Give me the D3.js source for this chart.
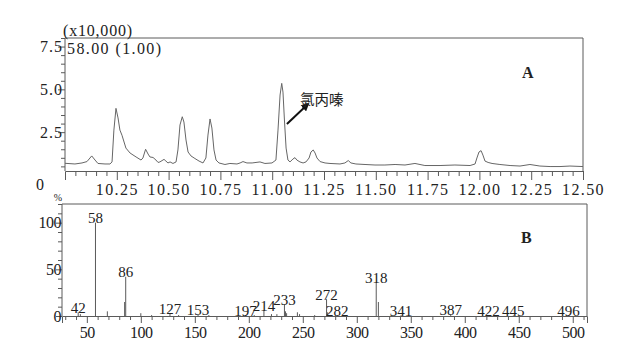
<!DOCTYPE html>
<html lang="zh">
<head>
    <meta charset="UTF-8">
    <title>氯丙嗪 色谱图与质谱图</title>
    <script src="https://cdnjs.cloudflare.com/ajax/libs/d3/7.8.5/d3.min.js"></script>
    <style>
        body { margin: 0; background: #fff; }
        svg text { font-family: 'Liberation Serif', 'DejaVu Serif', serif; fill: #222; }
    </style>
</head>
<body>
    <div id="wrapper"></div>
    <script>
        // A: 提取离子色谱图 (m/z 58)，保留时间 / 强度(x10,000)
        const rtTimes = [
            10.000, 10.048, 10.082, 10.106, 10.129, 10.145, 10.159, 10.193, 10.217, 10.227,
            10.236, 10.246, 10.256, 10.265, 10.275, 10.294, 10.314, 10.343, 10.367, 10.376,
            10.389, 10.401, 10.410, 10.425, 10.439, 10.449, 10.458, 10.478, 10.487, 10.497,
            10.507, 10.521, 10.536, 10.545, 10.555, 10.566, 10.574, 10.584, 10.594, 10.608,
            10.627, 10.647, 10.666, 10.680, 10.690, 10.700, 10.709, 10.719, 10.729, 10.743,
            10.772, 10.796, 10.830, 10.845, 10.859, 10.878, 10.903, 10.941, 10.965, 10.999,
            11.018, 11.028, 11.038, 11.046, 11.052, 11.059, 11.067, 11.076, 11.086, 11.100,
            11.110, 11.119, 11.134, 11.149, 11.163, 11.178, 11.187, 11.198, 11.207, 11.216,
            11.231, 11.255, 11.279, 11.327, 11.351, 11.367, 11.380, 11.404, 11.448, 11.496,
            11.544, 11.593, 11.641, 11.689, 11.737, 11.810, 11.882, 11.955, 11.979, 11.988,
            11.998, 12.008, 12.017, 12.027, 12.042, 12.061, 12.099, 12.148, 12.196, 12.244,
            12.292, 12.341, 12.389, 12.437, 12.500
        ]
        const rtSignal = [
            0.68, 0.64, 0.70, 0.78, 1.11, 0.87, 0.67, 0.64, 0.64, 0.76,
            2.62, 3.89, 3.33, 2.62, 2.32, 1.57, 1.28, 1.05, 0.87, 0.99,
            1.50, 1.22, 1.05, 1.02, 0.87, 0.73, 0.76, 0.91, 0.81, 0.70,
            0.76, 0.67, 0.76, 1.46, 2.92, 3.40, 3.09, 2.04, 1.34, 1.11,
            0.96, 0.81, 0.70, 0.99, 2.33, 3.27, 2.74, 1.46, 0.87, 0.70,
            0.61, 0.67, 0.64, 0.70, 0.78, 0.70, 0.70, 0.76, 0.67, 0.70,
            0.87, 2.62, 4.67, 5.35, 4.84, 3.21, 1.57, 0.87, 0.76, 0.93,
            1.01, 0.87, 0.76, 0.70, 0.76, 0.99, 1.34, 1.46, 1.28, 0.99,
            0.78, 0.70, 0.67, 0.64, 0.70, 0.84, 0.70, 0.64, 0.61, 0.58,
            0.58, 0.61, 0.58, 0.67, 0.55, 0.55, 0.58, 0.55, 0.64, 0.99,
            1.34, 1.42, 1.16, 0.81, 0.73, 0.67, 0.61, 0.55, 0.52, 0.61,
            0.52, 0.49, 0.49, 0.52, 0.49
        ]
        const rtTicks = [10.25, 10.50, 10.75, 11.00, 11.25, 11.50, 11.75, 12.00, 12.25, 12.50]
        const signalTicks = [2.5, 5.0, 7.5]

        // B: 质谱图，m/z / 相对丰度(%)
        const mzValues = [42, 44, 58, 69, 85, 86, 100, 110, 127, 135, 153, 163, 197, 205, 214, 221, 226,
            233, 234, 235, 245, 247, 261, 272, 273, 282, 318, 320, 341, 387, 422, 445, 496]
        const mzIntensity = [4, 2, 100, 5, 15, 42, 3, 1, 2.9, 1, 1.8, 1, 1, 1, 6, 2, 2,
            12.5, 5, 3, 4, 2, 1, 18, 4, 1, 36, 15, 1, 2, 0.6, 0.6, 0.6]
        const mzLabels = [42, 58, 86, 127, 153, 197, 214, 233, 272, 282, 318, 341, 387, 422, 445, 496]
        const mzTicks = [50, 100, 150, 200, 250, 300, 350, 400, 450, 500]
        const abundanceTicks = [0, 50, 100]

        const width = 622
        const height = 356
        const svg = d3.select('#wrapper').append('svg')
            .attr('width', width)
            .attr('height', height)

        const lineColor = '#5a5a5a'

        // ---------- A ----------
        const xA = d3.scaleLinear().domain([10, 12.5]).range([65, 583])
        const yA = d3.scaleLinear().domain([0.23, 8.0]).range([171, 38])

        // 外框
        svg.append('path')
            .attr('d', `M${xA(10)},${yA(0.23)}V${yA(8)}H${xA(12.5)}V${yA(0.23)}`)
            .attr('fill', 'none')
            .attr('stroke', lineColor)

        const rtMinor = d3.range(10.05, 12.51, 0.05).filter(t => !rtTicks.some(m => Math.abs(m - t) < 1e-6))
        svg.append('g')
            .attr('transform', `translate(0,${yA(0.23)})`)
            .call(d3.axisBottom(xA).tickValues(rtMinor).tickSize(5).tickFormat(''))
            .call(g => g.select('.domain').remove())
            .call(g => g.selectAll('.tick line').attr('stroke', lineColor))
        svg.append('g')
            .attr('transform', `translate(0,${yA(0.23)})`)
            .call(d3.axisBottom(xA).tickValues(rtTicks).tickSize(9).tickPadding(4).tickFormat(d3.format('.2f')))
            .call(g => g.select('.domain').attr('stroke', lineColor))
            .call(g => g.selectAll('.tick line').attr('stroke', lineColor))
            .call(g => g.selectAll('text').style('font-size', '16px').style('letter-spacing', '1.4px').attr('fill', '#222'))

        const sigMinor = d3.range(0.5, 8.01, 0.5).filter(v => !signalTicks.includes(v))
        svg.append('g')
            .attr('transform', `translate(${xA(10)},0)`)
            .call(d3.axisLeft(yA).tickValues(sigMinor).tickSize(4).tickFormat(''))
            .call(g => g.select('.domain').remove())
            .call(g => g.selectAll('.tick line').attr('stroke', lineColor))
        svg.append('g')
            .attr('transform', `translate(${xA(10)},0)`)
            .call(d3.axisLeft(yA).tickValues(signalTicks).tickSize(7).tickPadding(-5).tickFormat(d3.format('.1f')))
            .call(g => g.select('.domain').remove())
            .call(g => g.selectAll('.tick line').attr('stroke', lineColor))
            .call(g => g.selectAll('text').style('font-size', '16px').style('letter-spacing', '1px').attr('fill', '#222'))

        svg.append('text')
            .attr('x', 40).attr('y', yA(0) + 15)
            .attr('text-anchor', 'middle')
            .style('font-size', '16px')
            .text('0')

        svg.append('text')
            .attr('x', 63).attr('y', 36)
            .style('font-size', '16px').style('letter-spacing', '0.8px')
            .text('(x10,000)')
        svg.append('text')
            .attr('x', 67).attr('y', 54)
            .style('font-size', '16px').style('letter-spacing', '1.4px')
            .text('58.00 (1.00)')

        const chromLine = d3.line()
            .x((d, i) => xA(rtTimes[i]))
            .y(d => yA(d))
        svg.append('path')
            .datum(rtSignal)
            .attr('d', chromLine)
            .attr('fill', 'none')
            .attr('stroke', '#666')
            .attr('stroke-width', 1)

        // 标注 氯丙嗪
        svg.append('defs').append('marker')
            .attr('id', 'arrow')
            .attr('viewBox', '0 0 10 10')
            .attr('refX', 8).attr('refY', 5)
            .attr('markerWidth', 4).attr('markerHeight', 4)
            .attr('orient', 'auto')
            .append('path').attr('d', 'M0,0L10,5L0,10z').attr('fill', '#111')
        svg.append('line')
            .attr('x1', xA(11.071)).attr('y1', yA(2.98))
            .attr('x2', xA(11.173)).attr('y2', yA(4.14))
            .attr('stroke', '#111')
            .attr('stroke-width', 2)
            .attr('marker-end', 'url(#arrow)')
        svg.append('text')
            .attr('x', xA(11.134)).attr('y', yA(4.38) + 5)
            .style('font-family', "'Noto Sans CJK SC', sans-serif")
            .style('font-size', '14.5px')
            .text('氯丙嗪')

        svg.append('text')
            .attr('x', xA(12.233)).attr('y', yA(5.69))
            .attr('text-anchor', 'middle')
            .style('font-size', '16px').style('font-weight', 'bold')
            .text('A')

        // ---------- B ----------
        const xB = d3.scaleLinear().domain([27, 513.2]).range([62, 587])
        const yB = d3.scaleLinear().domain([0, 120]).range([316, 204])

        svg.append('path')
            .attr('d', `M${xB(27)},${yB(0)}V${yB(120)}H${xB(513.2)}V${yB(0)}`)
            .attr('fill', 'none')
            .attr('stroke', lineColor)

        const mzMinor = d3.range(30, 511, 10).filter(v => !mzTicks.includes(v))
        svg.append('g')
            .attr('transform', `translate(0,${yB(0)})`)
            .call(d3.axisBottom(xB).tickValues(mzMinor).tickSize(4).tickFormat(''))
            .call(g => g.select('.domain').remove())
            .call(g => g.selectAll('.tick line').attr('stroke', lineColor))
        svg.append('g')
            .attr('transform', `translate(0,${yB(0)})`)
            .call(d3.axisBottom(xB).tickValues(mzTicks).tickSize(7).tickPadding(4))
            .call(g => g.select('.domain').attr('stroke', lineColor))
            .call(g => g.selectAll('.tick line').attr('stroke', lineColor))
            .call(g => g.selectAll('text').style('font-size', '16px').style('letter-spacing', '-0.5px').attr('fill', '#222'))

        const abMinor = d3.range(10, 121, 10).filter(v => !abundanceTicks.includes(v))
        svg.append('g')
            .attr('transform', `translate(${xB(27)},0)`)
            .call(d3.axisLeft(yB).tickValues(abMinor).tickSize(4).tickFormat(''))
            .call(g => g.select('.domain').remove())
            .call(g => g.selectAll('.tick line').attr('stroke', lineColor))
        svg.append('g')
            .attr('transform', `translate(${xB(27)},0)`)
            .call(d3.axisLeft(yB).tickValues(abundanceTicks).tickSize(6).tickPadding(-5))
            .call(g => g.select('.domain').remove())
            .call(g => g.selectAll('.tick line').attr('stroke', lineColor))
            .call(g => g.selectAll('text').style('font-size', '16px').style('letter-spacing', '-0.5px').attr('fill', '#222'))

        svg.append('text')
            .attr('x', 58).attr('y', 201)
            .attr('text-anchor', 'middle')
            .style('font-size', '10px')
            .text('%')

        svg.append('g')
            .selectAll('line')
            .data(mzValues)
            .join('line')
                .attr('x1', d => xB(d)).attr('x2', d => xB(d))
                .attr('y1', yB(0))
                .attr('y2', (d, i) => yB(mzIntensity[i]))
                .attr('stroke', lineColor)
                .attr('stroke-width', 1)

        svg.append('g')
            .selectAll('text')
            .data(mzLabels)
            .join('text')
                .attr('x', d => xB(d))
                .attr('y', d => yB(mzIntensity[mzValues.indexOf(d)]) + 0.5)
                .attr('text-anchor', 'middle')
                .style('font-size', '15px')
                .text(d => d)

        svg.append('text')
            .attr('x', xB(457)).attr('y', yB(78))
            .attr('text-anchor', 'middle')
            .style('font-size', '16px').style('font-weight', 'bold')
            .text('B')
    </script>
</body>
</html>
